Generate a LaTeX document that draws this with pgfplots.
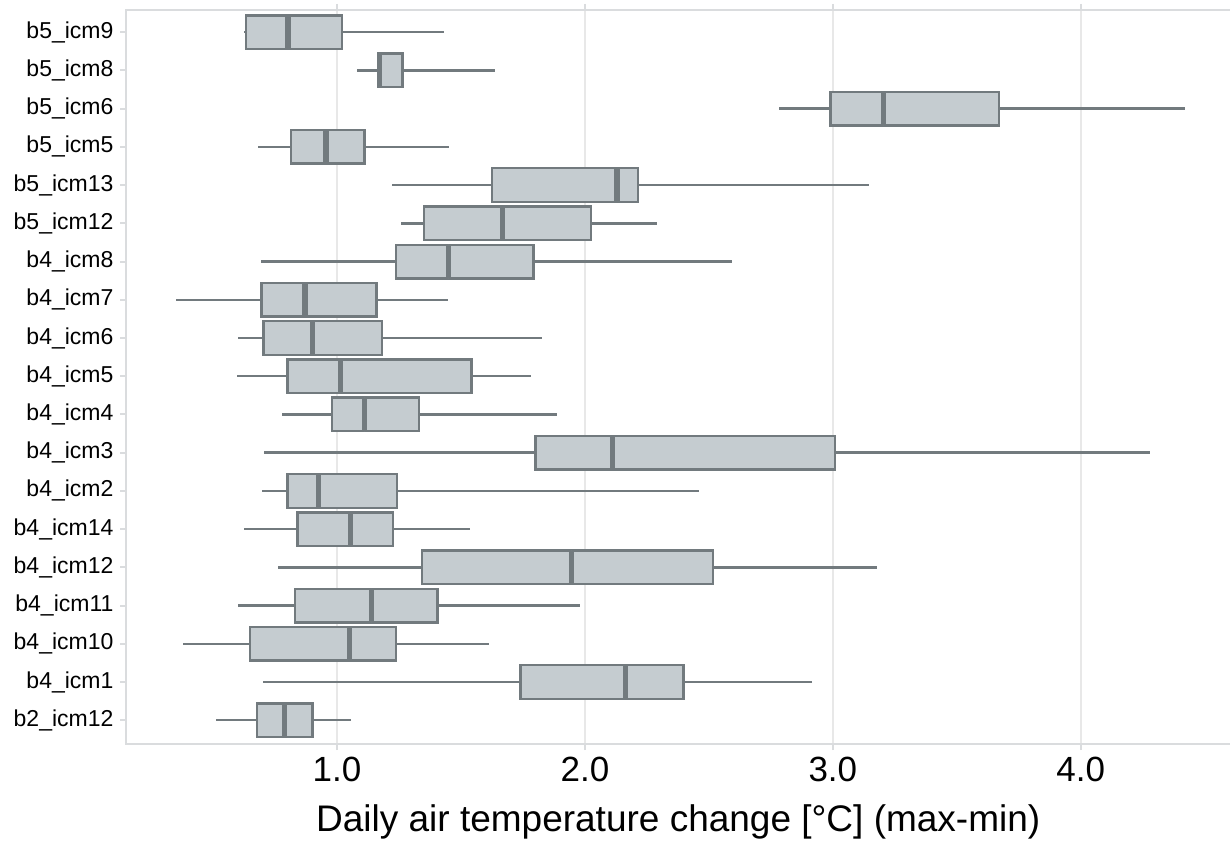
\documentclass[border=0pt]{standalone}
\usepackage{fontspec}
\setmainfont{Liberation Sans}
\usepackage{pgfplots}
\pgfplotsset{compat=1.18}
\usepgfplotslibrary{statistics}
\definecolor{boxfill}{RGB}{197,204,208}
\definecolor{boxdraw}{RGB}{114,122,126}
\definecolor{gridc}{RGB}{232,232,232}
\definecolor{framec}{RGB}{218,220,222}
\pgfplotsset{
  mybox/.style={boxplot prepared={#1}, draw=boxdraw, fill=boxfill, line width=1.2pt, solid},
}
\begin{document}
\begin{tikzpicture}
\begin{axis}[
  scale only axis, width=552.75pt, height=367pt,
  xmin=0.151, xmax=4.610, ymin=0.38, ymax=19.58,
  xtick={1,2,3,4}, xticklabels={1.0,2.0,3.0,4.0},
  ytick={1,...,19},
  yticklabels={b2\_icm12,b4\_icm1,b4\_icm10,b4\_icm11,b4\_icm12,b4\_icm14,b4\_icm2,b4\_icm3,b4\_icm4,b4\_icm5,b4\_icm6,b4\_icm7,b4\_icm8,b5\_icm12,b5\_icm13,b5\_icm5,b5\_icm6,b5\_icm8,b5\_icm9},
  tick align=outside, major tick length=3pt,
  tick style={framec, line width=1pt},
  axis line style={framec, line width=1pt},
  xmajorgrids=true, ymajorgrids=false,
  grid style={gridc, line width=1pt},
  /pgf/number format/assume math mode=true,
  yticklabel style={font=\fontsize{11.5}{13}\selectfont, text=black},
  xticklabel style={font=\fontsize{17.5}{20}\selectfont, text=black},
  xlabel={Daily air temperature change [°C] (max-min)},
  xlabel style={font=\fontsize{18.5}{22}\selectfont, at={(axis description cs:0.5,0)}, anchor=base, yshift=-43.5pt, xshift=-0.5pt},
  boxplot/box extend=0.88,
  boxplot/whisker extend=0,
  boxplot/every median/.style={line width=2.6pt},
  boxplot/every whisker/.style={line width=1.2pt},
]
% b2_icm12
\addplot[mybox={draw position=1, lower whisker=0.512, lower quartile=0.677, median=0.789, upper quartile=0.902, upper whisker=1.057}] coordinates {};
% b4_icm1
\addplot[mybox={draw position=2, lower whisker=0.701, lower quartile=1.740, median=2.163, upper quartile=2.397, upper whisker=2.917}] coordinates {};
% b4_icm10
\addplot[mybox={draw position=3, lower whisker=0.379, lower quartile=0.650, median=1.050, upper quartile=1.239, upper whisker=1.612}] coordinates {};
% b4_icm11
\addplot[mybox={draw position=4, lower whisker=0.602, lower quartile=0.831, median=1.140, upper quartile=1.406, upper whisker=1.979}] coordinates {};
% b4_icm12
\addplot[mybox={draw position=5, lower whisker=0.762, lower quartile=1.344, median=1.946, upper quartile=2.517, upper whisker=3.179}] coordinates {};
% b4_icm14
\addplot[mybox={draw position=6, lower whisker=0.625, lower quartile=0.840, median=1.055, upper quartile=1.226, upper whisker=1.537}] coordinates {};
% b4_icm2
\addplot[mybox={draw position=7, lower whisker=0.698, lower quartile=0.800, median=0.926, upper quartile=1.242, upper whisker=2.460}] coordinates {};
% b4_icm3
\addplot[mybox={draw position=8, lower whisker=0.704, lower quartile=1.800, median=2.110, upper quartile=3.008, upper whisker=4.278}] coordinates {};
% b4_icm4
\addplot[mybox={draw position=9, lower whisker=0.779, lower quartile=0.979, median=1.110, upper quartile=1.330, upper whisker=1.888}] coordinates {};
% b4_icm5
\addplot[mybox={draw position=10, lower whisker=0.597, lower quartile=0.800, median=1.015, upper quartile=1.542, upper whisker=1.781}] coordinates {};
% b4_icm6
\addplot[mybox={draw position=11, lower whisker=0.602, lower quartile=0.703, median=0.901, upper quartile=1.182, upper whisker=1.826}] coordinates {};
% b4_icm7
\addplot[mybox={draw position=12, lower whisker=0.352, lower quartile=0.695, median=0.871, upper quartile=1.159, upper whisker=1.446}] coordinates {};
% b4_icm8
\addplot[mybox={draw position=13, lower whisker=0.693, lower quartile=1.239, median=1.451, upper quartile=1.792, upper whisker=2.595}] coordinates {};
% b5_icm12
\addplot[mybox={draw position=14, lower whisker=1.259, lower quartile=1.352, median=1.666, upper quartile=2.024, upper whisker=2.291}] coordinates {};
% b5_icm13
\addplot[mybox={draw position=15, lower whisker=1.220, lower quartile=1.625, median=2.129, upper quartile=2.214, upper whisker=3.144}] coordinates {};
% b5_icm5
\addplot[mybox={draw position=16, lower whisker=0.682, lower quartile=0.814, median=0.956, upper quartile=1.111, upper whisker=1.451}] coordinates {};
% b5_icm6
\addplot[mybox={draw position=17, lower whisker=2.782, lower quartile=2.991, median=3.204, upper quartile=3.671, upper whisker=4.422}] coordinates {};
% b5_icm8
\addplot[mybox={draw position=18, lower whisker=1.079, lower quartile=1.167, median=1.172, upper quartile=1.264, upper whisker=1.636}] coordinates {};
% b5_icm9
\addplot[mybox={draw position=19, lower whisker=0.625, lower quartile=0.634, median=0.802, upper quartile=1.019, upper whisker=1.432}] coordinates {};
\end{axis}
\pgfresetboundingbox
\path[use as bounding box] ([xshift=-63.25pt,yshift=-48pt]current axis.south west) rectangle ([xshift=-1pt,yshift=5pt]current axis.north east);
\end{tikzpicture}
\end{document}
